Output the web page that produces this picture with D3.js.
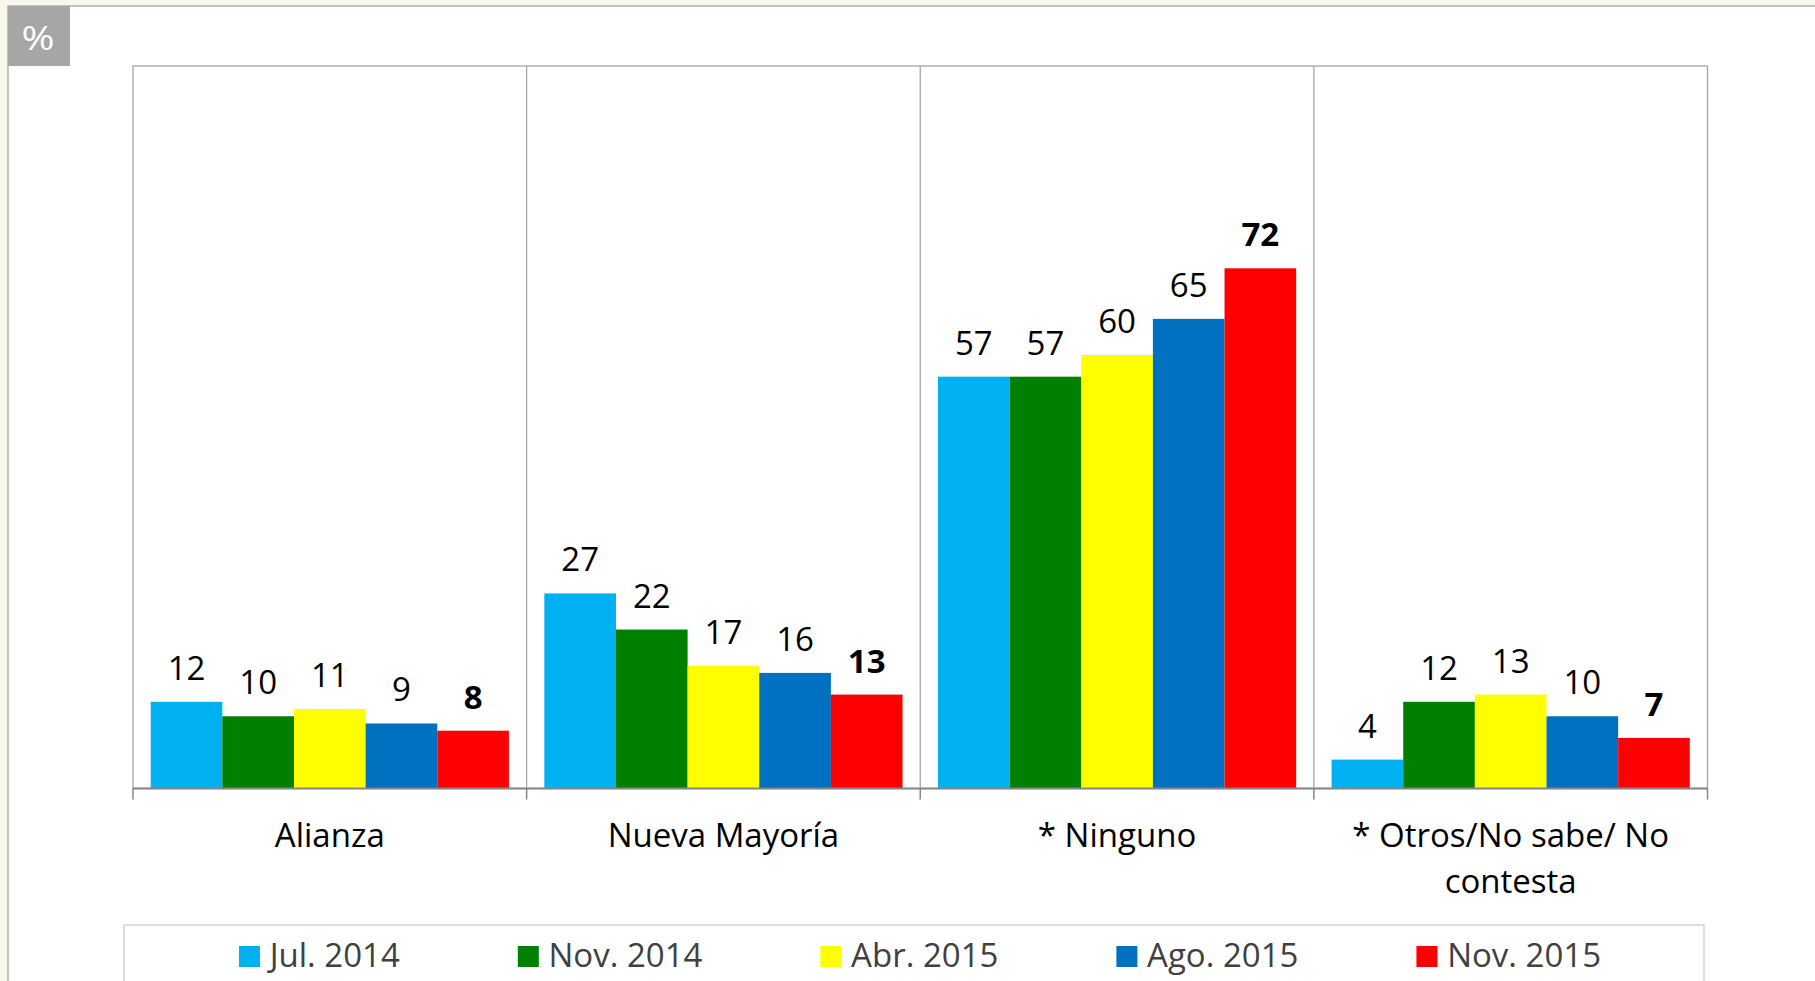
<!DOCTYPE html>
<html>
<head>
<meta charset="utf-8">
<script src="https://cdn.jsdelivr.net/npm/d3@7"></script>
<style>
html,body{margin:0;padding:0;background:#f9f7ea;}
svg{display:block;}
</style>
</head>
<body>
<svg id="chart" width="1815" height="981"></svg>
<script>
const categories = ["Alianza", "Nueva Mayoría", "* Ninguno", "* Otros/No sabe/ No contesta"];
const seriesNames = ["Jul. 2014", "Nov. 2014", "Abr. 2015", "Ago. 2015", "Nov. 2015"];
const jul2014 = [12, 27, 57, 4];
const nov2014 = [10, 22, 57, 12];
const abr2015 = [11, 17, 60, 13];
const ago2015 = [9, 16, 65, 10];
const nov2015 = [8, 13, 72, 7];
const seriesColors = ["#00b0f0", "#008000", "#ffff00", "#0070c0", "#ff0000"];
const unitLabel = "%";

const seriesValues = [jul2014, nov2014, abr2015, ago2015, nov2015];
const series = seriesNames.map((name, i) => ({name, color: seriesColors[i], values: seriesValues[i], bold: i === seriesNames.length - 1}));

const FONT = "'Open Sans', 'Noto Sans', sans-serif";
const svg = d3.select("#chart");

// outer white panel
svg.append("rect").attr("x", 8).attr("y", 6).attr("width", 1830).attr("height", 1000)
  .attr("fill", "#ffffff").attr("stroke", "#b0b0b0").attr("stroke-width", 1.5);

// % badge
svg.append("rect").attr("x", 8).attr("y", 6).attr("width", 62).attr("height", 60).attr("fill", "#a6a6a6");
svg.append("text").attr("x", 38).attr("y", 50).attr("text-anchor", "middle")
  .attr("font-family", FONT).attr("font-size", 32).attr("fill", "#ffffff")
  .attr("transform", "translate(38,0) scale(1.25,1) translate(-38,0)").text(unitLabel);

const plot = {left: 133, right: 1707.5, top: 66, bottom: 788.5};

const x0 = d3.scaleBand().domain(categories).range([plot.left, plot.right]).paddingInner(0).paddingOuter(0);
const pad = x0.bandwidth() * 0.045;
const x1 = d3.scaleBand().domain(seriesNames).range([pad, x0.bandwidth() - pad]).padding(0);
const y = d3.scaleLinear().domain([0, 100]).range([plot.bottom, plot.top]);

// plot frame
svg.append("rect").attr("x", plot.left).attr("y", plot.top)
  .attr("width", plot.right - plot.left).attr("height", plot.bottom - plot.top)
  .attr("fill", "none").attr("stroke", "#a6a6a6").attr("stroke-width", 1.3);

// vertical dividers (category gridlines)
categories.slice(1).forEach(c => {
  svg.append("line").attr("x1", x0(c)).attr("x2", x0(c)).attr("y1", plot.top).attr("y2", plot.bottom)
    .attr("stroke", "#a6a6a6").attr("stroke-width", 1.3);
});

// bars
const groups = svg.selectAll("g.cat").data(categories).enter().append("g")
  .attr("class", "cat").attr("transform", c => `translate(${x0(c)},0)`);

groups.each(function(c, ci) {
  const g = d3.select(this);
  series.forEach(s => {
    const v = s.values[ci];
    g.append("rect").attr("x", x1(s.name)).attr("y", y(v))
      .attr("width", x1.bandwidth()).attr("height", y(0) - y(v))
      .attr("fill", s.color);
  });
  series.forEach(s => {
    const v = s.values[ci];
    g.append("text").attr("x", x1(s.name) + x1.bandwidth() / 2).attr("y", y(v) - 22)
      .attr("text-anchor", "middle").attr("font-family", FONT).attr("font-size", 33)
      .attr("font-weight", s.bold ? "bold" : "normal").attr("fill", "#000000").text(v);
  });
});

// category axis line and ticks
svg.append("line").attr("x1", plot.left).attr("x2", plot.right).attr("y1", plot.bottom).attr("y2", plot.bottom)
  .attr("stroke", "#868686").attr("stroke-width", 2);
const boundaries = categories.map(c => x0(c)).concat([plot.right]);
boundaries.forEach(bx => {
  svg.append("line").attr("x1", bx).attr("x2", bx).attr("y1", plot.bottom).attr("y2", plot.bottom + 11)
    .attr("stroke", "#868686").attr("stroke-width", 1.5);
});

// category labels with wrapping
const CAT_FS = 33;
const maxW = x0.bandwidth() - 20;
categories.forEach(c => {
  const t = svg.append("text").attr("text-anchor", "middle").attr("font-family", FONT)
    .attr("font-size", CAT_FS).attr("fill", "#000000");
  const words = c.split(" ");
  let lines = [];
  let line = [];
  const probe = svg.append("text").attr("font-family", FONT).attr("font-size", CAT_FS);
  words.forEach(w => {
    line.push(w);
    probe.text(line.join(" "));
    if (probe.node().getComputedTextLength() > maxW && line.length > 1) {
      line.pop();
      lines.push(line.join(" "));
      line = [w];
    }
  });
  lines.push(line.join(" "));
  probe.remove();
  lines.forEach((l, i) => {
    t.append("tspan").attr("x", x0(c) + x0.bandwidth() / 2).attr("y", 847 + i * 46).text(l);
  });
});

// legend
svg.append("rect").attr("x", 124).attr("y", 925).attr("width", 1580).attr("height", 100)
  .attr("fill", "#ffffff").attr("stroke", "#c8c8c8").attr("stroke-width", 1.2);
const lg = svg.append("g");
let cx = 0;
series.forEach(s => {
  lg.append("rect").attr("x", cx).attr("y", 946).attr("width", 21).attr("height", 21).attr("fill", s.color);
  const tt = lg.append("text").attr("x", cx + 30.7).attr("y", 967).attr("font-family", FONT)
    .attr("font-size", 33).attr("fill", "#404040").text(s.name);
  cx = cx + 30.7 + tt.node().getComputedTextLength() + 118;
});
const total = cx - 118;
lg.attr("transform", `translate(${920 - total / 2},0)`);
</script>
</body>
</html>
